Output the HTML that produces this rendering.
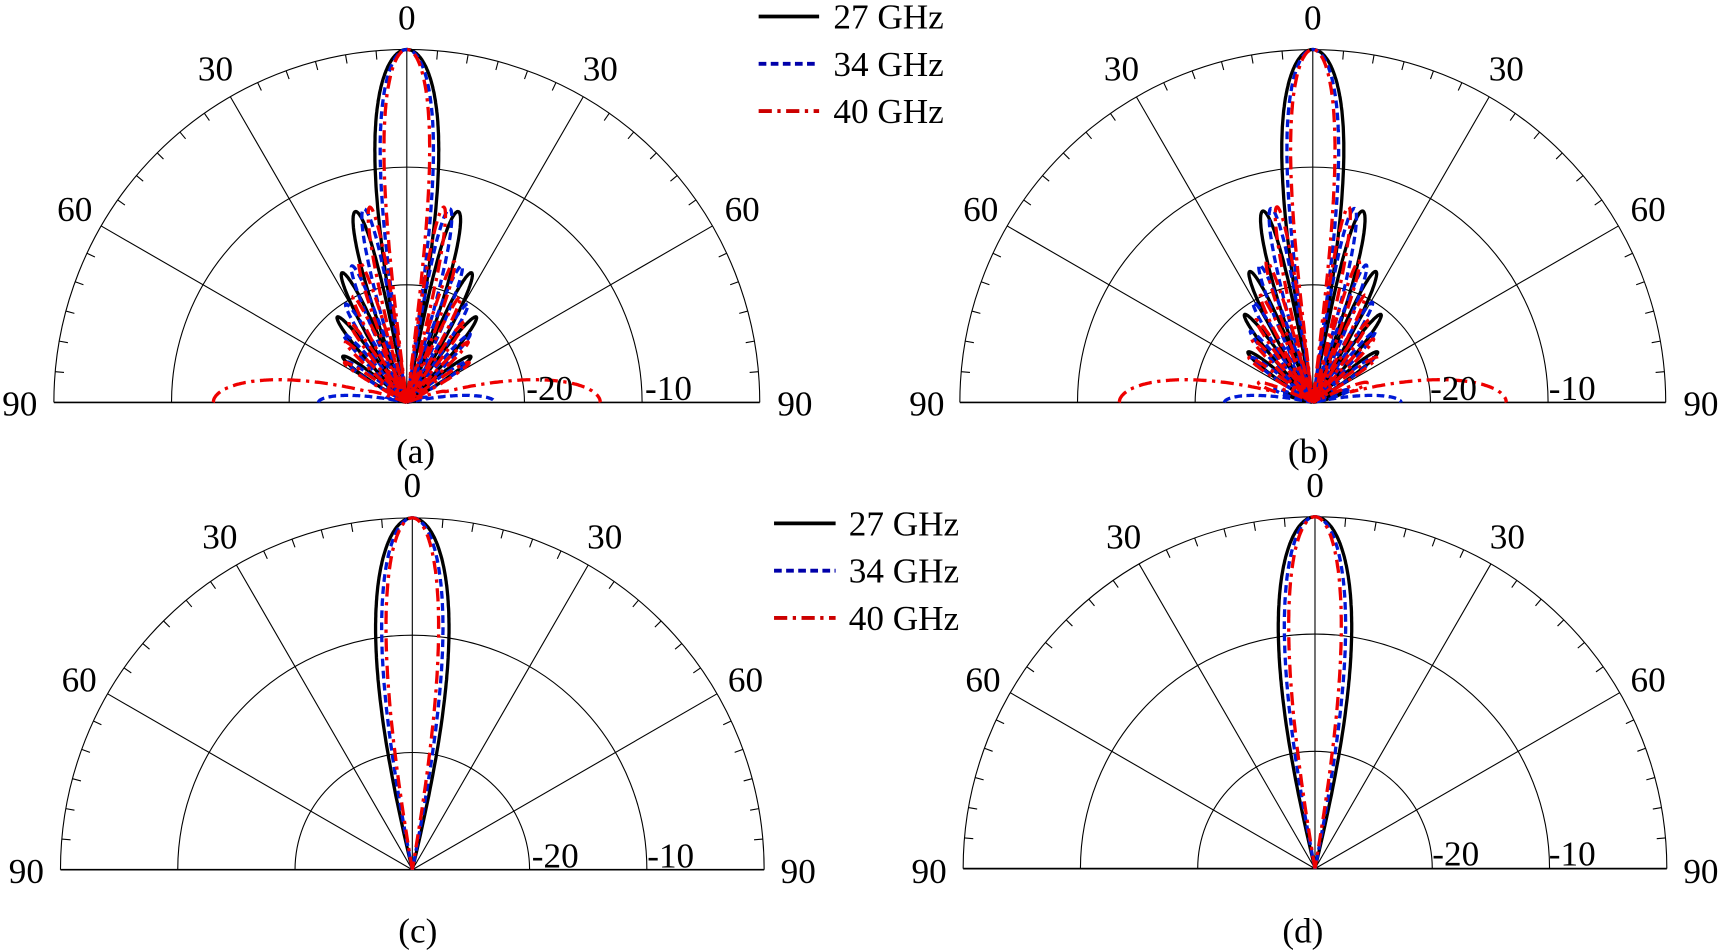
<!DOCTYPE html>
<html><head><meta charset="utf-8"><style>
html,body{margin:0;padding:0;background:#fff;width:1724px;height:950px;overflow:hidden}
svg{display:block}
text{font-family:"Liberation Serif",serif;font-size:32px;fill:#000}
</style></head><body>
<svg id="s" width="1724" height="950" viewBox="0 0 1568 864" preserveAspectRatio="none" xmlns="http://www.w3.org/2000/svg">
<g id="g"></g>
<text x="370" y="27" text-anchor="middle">0</text>
<text x="196" y="73" text-anchor="middle">30</text><text x="546" y="73" text-anchor="middle">30</text>
<text x="68" y="201" text-anchor="middle">60</text><text x="675" y="201" text-anchor="middle">60</text>
<text x="18" y="378" text-anchor="middle">90</text><text x="723" y="378" text-anchor="middle">90</text>
<text x="500" y="364" text-anchor="middle">-20</text><text x="608" y="364" text-anchor="middle">-10</text>
<text x="1194" y="27" text-anchor="middle">0</text>
<text x="1020" y="73" text-anchor="middle">30</text><text x="1370" y="73" text-anchor="middle">30</text>
<text x="892" y="201" text-anchor="middle">60</text><text x="1499" y="201" text-anchor="middle">60</text>
<text x="843" y="378" text-anchor="middle">90</text><text x="1547" y="378" text-anchor="middle">90</text>
<text x="1322" y="364" text-anchor="middle">-20</text><text x="1430" y="364" text-anchor="middle">-10</text>
<text x="375" y="452" text-anchor="middle">0</text>
<text x="200" y="499" text-anchor="middle">30</text><text x="550" y="499" text-anchor="middle">30</text>
<text x="72" y="629" text-anchor="middle">60</text><text x="678" y="629" text-anchor="middle">60</text>
<text x="24" y="803" text-anchor="middle">90</text><text x="726" y="803" text-anchor="middle">90</text>
<text x="505" y="789" text-anchor="middle">-20</text><text x="610" y="789" text-anchor="middle">-10</text>
<text x="1196" y="452" text-anchor="middle">0</text>
<text x="1022" y="499" text-anchor="middle">30</text><text x="1371" y="499" text-anchor="middle">30</text>
<text x="894" y="629" text-anchor="middle">60</text><text x="1499" y="629" text-anchor="middle">60</text>
<text x="845" y="803" text-anchor="middle">90</text><text x="1547" y="803" text-anchor="middle">90</text>
<text x="1324" y="787" text-anchor="middle">-20</text><text x="1430" y="787" text-anchor="middle">-10</text>
<text x="378" y="421" text-anchor="middle">(a)</text><text x="1190" y="421" text-anchor="middle">(b)</text>
<text x="380" y="857" text-anchor="middle">(c)</text><text x="1185" y="857" text-anchor="middle">(d)</text>
<line x1="690" y1="15" x2="745" y2="15" stroke="#000" stroke-width="3.5"/>
<line x1="690" y1="58" x2="745" y2="58" stroke="#00a" stroke-width="3.5" stroke-dasharray="7,4"/>
<line x1="690" y1="101" x2="745" y2="101" stroke="#c00" stroke-width="3.5" stroke-dasharray="12,5,3,5"/>
<text x="758" y="26">27 GHz</text><text x="758" y="69">34 GHz</text><text x="758" y="112">40 GHz</text>
<line x1="704" y1="476" x2="760" y2="476" stroke="#000" stroke-width="3.5"/>
<line x1="704" y1="519" x2="760" y2="519" stroke="#00a" stroke-width="3.5" stroke-dasharray="7,4"/>
<line x1="704" y1="562" x2="760" y2="562" stroke="#c00" stroke-width="3.5" stroke-dasharray="12,5,3,5"/>
<text x="772" y="487">27 GHz</text><text x="772" y="530">34 GHz</text><text x="772" y="573">40 GHz</text>
</svg>
<script>
var g=document.getElementById('g'),out='';
var plots=[[370,366,321,0],[1194,366,321,0],[375,791,320,1],[1196,790,320,1]];
var st=[['#000','none',3],['#0019d6','7,4',3],['#e00','12,5,3,5',3]];
plots.forEach(function(p,pi){
 var cx=p[0],cy=p[1],R=p[2],t=p[3];
 out+='<line x1="'+(cx-R)+'" y1="'+cy+'" x2="'+(cx+R)+'" y2="'+cy+'" stroke="#000" stroke-width="1.5"/>';
 [1,2,3].forEach(function(k){var r=R*k/3;out+='<path d="M'+(cx-r)+' '+cy+' A'+r+' '+r+' 0 0 1 '+(cx+r)+' '+cy+'" fill="none" stroke="#000" stroke-width="1"/>';});
 [-60,-30,0,30,60].forEach(function(a){var q=a*Math.PI/180;out+='<line x1="'+cx+'" y1="'+cy+'" x2="'+(cx+R*Math.sin(q))+'" y2="'+(cy-R*Math.cos(q))+'" stroke="#000" stroke-width="1"/>';});
 for(var a=-85;a<=85;a+=5){if(a%30==0)continue;var q=a*Math.PI/180;out+='<line x1="'+(cx+R*Math.sin(q))+'" y1="'+(cy-R*Math.cos(q))+'" x2="'+(cx+(R-8)*Math.sin(q))+'" y2="'+(cy-(R-8)*Math.cos(q))+'" stroke="#000" stroke-width="1"/>';}
 var ds=[0.5,0.6,0.7];
 for(var f=0;f<3;f++){
  var N=t?16:11,d=ds[f]*(pi==1?1.03:1),pts=[];
  var w=[];for(var n=0;n<N;n++){w.push(t?Math.pow(Math.sin(Math.PI*(n+0.5)/N),2.0):1);}
  var ws=w.reduce(function(a,b){return a+b},0);
  for(var i=0;i<=1800;i++){
   var th=(-90+i*0.1)*Math.PI/180,re=0,im=0;
   for(var n=0;n<N;n++){var ph=2*Math.PI*d*n*Math.sin(th);re+=w[n]*Math.cos(ph);im+=w[n]*Math.sin(ph);}
   var v=Math.sqrt(re*re+im*im)/ws*Math.pow(Math.max(Math.cos(th),1e-4),t?1.3:0.6);
   if(!t){var fl=[0,0.075,0.21][f]*Math.pow(Math.sin(Math.abs(th)),40);v=Math.max(v,fl);}
   var dB=20*Math.log10(v+1e-9);if(dB<-30)dB=-30;
   var r=(dB+30)/30*R;
   pts.push((cx+r*Math.sin(th)).toFixed(1)+','+(cy-r*Math.cos(th)).toFixed(1));
  }
  out+='<polyline points="'+pts.join(' ')+'" fill="none" stroke="'+st[f][0]+'" stroke-width="'+st[f][2]+'" stroke-dasharray="'+st[f][1]+'"/>';
 }
});
g.innerHTML=out;
</script>
</body></html>
